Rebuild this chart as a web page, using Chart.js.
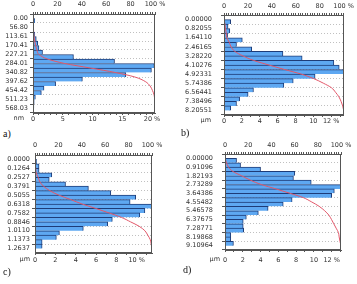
<!DOCTYPE html>
<html>
<head>
<meta charset="utf-8">
<script src="https://cdn.jsdelivr.net/npm/chart.js@4.4.0/dist/chart.umd.min.js"></script>
<style>
  body { margin: 0; background: #fff; width: 357px; height: 284px; position: relative; overflow: hidden; }
  canvas { position: absolute; }
  .tag { position: absolute; font-family: "Liberation Serif", serif; font-size: 10px; line-height: 10px; color: #111; }
</style>
</head>
<body>
<canvas id="chartA" width="178" height="128" style="left:0;top:0"></canvas>
<canvas id="chartB" width="179" height="128" style="left:178px;top:0"></canvas>
<canvas id="chartC" width="178" height="128" style="left:0;top:140px"></canvas>
<canvas id="chartD" width="179" height="128" style="left:178px;top:140px"></canvas>
<div class="tag" style="left:3px;top:129px">a)</div>
<div class="tag" style="left:181px;top:128px">b)</div>
<div class="tag" style="left:3px;top:267px">c)</div>
<div class="tag" style="left:183px;top:265px">d)</div>
<script>
// a) size classes in nm, frequency in %, cumulative in %
const aYLabels = ['0.00', '56.80', '113.61', '170.41', '227.21', '284.01', '340.82', '397.62', '454.42', '511.23', '568.03'];
const aHist = [0.3, 0.1, 0.1, 0.3, 0.55, 0.8, 1.0, 1.6, 6.8, 13.7, 20.4, 19.9, 15.6, 8.3, 3.8, 1.85, 1.4, 0.4, 0.2, 0.15];
const aCum = [0, 0.3, 0.4, 0.5, 0.8, 1.4, 2.2, 3.2, 4.9, 11.9, 26, 47, 67.5, 83.5, 92, 96, 97.9, 99.3, 99.7, 99.9, 100];

// b) µm
const bYLabels = ['0.00000', '0.82055', '1.64110', '2.46165', '3.28220', '4.10276', '4.92331', '5.74386', '6.56441', '7.38496', '8.20551'];
const bHist = [0.75, 0.45, 0.65, 0.4, 2.05, 1.4, 3.1, 6.6, 8.75, 12.3, 12.9, 13.4, 10.2, 7.75, 6.7, 3.3, 2.7, 1.75, 1.4, 0.75];
const bCum = [0, 0.8, 1.2, 1.9, 2.3, 4.4, 5.9, 9.0, 15.8, 24.8, 37.5, 50.7, 64.5, 75, 83, 89.8, 93.2, 96, 97.8, 99.2, 100];

// c) µm
const cYLabels = ['0.0000', '0.1264', '0.2527', '0.3791', '0.5055', '0.6318', '0.7582', '0.8846', '1.0110', '1.1373', '1.2637'];
const cHist = [0.15, 0.4, 0.4, 1.65, 1.4, 3.0, 5.25, 7.45, 9.9, 9.35, 11.5, 10.8, 10.3, 7.6, 7.15, 4.75, 2.4, 2.1, 0.7, 0.7];
const cCum = [0, 0.2, 0.6, 1.0, 2.7, 4.1, 7.2, 12.6, 20.3, 30.5, 40.2, 52, 63.2, 73.8, 81.6, 89, 93.9, 96.4, 98.5, 99.3, 100];

// d) µm
const dYLabels = ['0.00000', '0.91096', '1.82193', '2.73289', '3.64386', '4.55482', '5.46578', '6.37675', '7.28771', '8.19868', '9.10964'];
const dHist = [1.3, 1.75, 4.0, 7.85, 7.7, 9.7, 13.05, 12.3, 12.0, 7.55, 6.55, 4.85, 3.75, 2.4, 2.05, 2.05, 2.1, 0.65, 0.65, 0.95];
const dCum = [0, 1.3, 3.0, 6.8, 14.4, 21.9, 31.3, 43.9, 55.9, 67.5, 74.8, 81.2, 85.9, 89.5, 91.8, 93.8, 95.8, 97.8, 98.4, 99.1, 100];

const tickFont = { family: 'DejaVu Sans', size: 6.5 };
const textColor = '#333';
const axisColor = '#555';

// unit text left of the bottom axis ("nm" / "µm")
const unitPlugin = {
  id: 'unitLabel',
  afterDraw(chart, args, opts) {
    const { ctx, chartArea } = chart;
    ctx.save();
    ctx.font = '6.5px "DejaVu Sans"';
    ctx.fillStyle = textColor;
    ctx.textAlign = 'right';
    ctx.textBaseline = 'top';
    ctx.fillText(opts.text, chartArea.left - opts.gap, chartArea.bottom + opts.dy);
    ctx.restore();
  }
};

// box round the plot area
const framePlugin = {
  id: 'frame',
  afterDatasetsDraw(chart) {
    const { ctx, chartArea: a } = chart;
    ctx.save();
    ctx.strokeStyle = axisColor;
    ctx.lineWidth = 1;
    ctx.strokeRect(Math.round(a.left) + 0.5, Math.round(a.top) + 0.5,
      Math.round(a.right - a.left) - 1, Math.round(a.bottom - a.top) - 1);
    ctx.restore();
  }
};

function makePanel(id, p) {
  const yMax = parseFloat(p.yLabels[p.yLabels.length - 1]);
  const n = p.hist.length;
  const bars = p.hist.map((v, i) => ({ x: v, y: yMax * (i + 0.5) / n }));
  const curve = p.cum.map((v, i) => ({ x: v, y: yMax * i / n }));

  return new Chart(document.getElementById(id), {
    type: 'bar',
    data: {
      datasets: [
        {
          type: 'line',
          data: curve,
          xAxisID: 'x2',
          borderColor: '#e2586a',
          borderWidth: 1,
          pointRadius: 0,
          cubicInterpolationMode: 'monotone',
          order: 1
        },
        {
          data: bars,
          xAxisID: 'x',
          backgroundColor: '#5ea8f2',
          borderColor: '#1e3c78',
          borderWidth: { top: 1, right: 1, bottom: 0, left: 0 },
          borderSkipped: false,
          barPercentage: 1,
          categoryPercentage: 1,
          order: 2
        }
      ]
    },
    options: {
      indexAxis: 'y',
      responsive: false,
      devicePixelRatio: 1,
      animation: false,
      events: [],
      layout: { padding: { left: 0, right: p.padRight, top: 0, bottom: 0 } },
      plugins: {
        legend: { display: false },
        tooltip: { enabled: false },
        unitLabel: { text: p.unit, gap: p.unitGap, dy: p.botGap }
      },
      scales: {
        y: {
          type: 'linear',
          reverse: true,
          min: 0,
          max: yMax,
          afterBuildTicks: s => { s.ticks = p.yLabels.map(l => ({ value: parseFloat(l) })); },
          afterFit: s => { s.width = p.axisW; },
          ticks: { callback: (v, i) => p.yLabels[i], font: tickFont, color: textColor, padding: p.yPad, autoSkip: false },
          grid: { color: '#c0c0c0', tickColor: axisColor, tickLength: 3 },
          border: { display: true, color: axisColor, dash: [1, 2] }
        },
        x: {
          type: 'linear',
          position: 'bottom',
          min: 0,
          max: p.xMax,
          afterBuildTicks: s => {
            const t = [];
            for (let v = 0; v <= p.xMax; v += 1) t.push({ value: v });
            s.ticks = t;
          },
          afterFit: s => { s.height = p.botH; },
          ticks: {
            callback: v => (v % p.xMajor === 0 ? (v === p.xLast ? v + ' %' : String(v)) : ''),
            font: tickFont, color: textColor, padding: p.botGap - 2, maxRotation: 0, autoSkip: false
          },
          grid: { drawOnChartArea: false, tickColor: axisColor, tickLength: 2 },
          border: { display: true, color: axisColor }
        },
        x2: {
          type: 'linear',
          position: 'top',
          min: 0,
          max: 100,
          afterBuildTicks: s => {
            const t = [];
            for (let v = 0; v <= 100; v += 2) t.push({ value: v });
            s.ticks = t;
          },
          afterFit: s => { s.height = p.topH; },
          ticks: {
            callback: v => (v % 20 === 0 ? (v === 100 ? '100 %' : String(v)) : ''),
            font: tickFont, color: textColor, padding: p.topGap - 2, maxRotation: 0, autoSkip: false
          },
          grid: { drawOnChartArea: false, tickColor: axisColor, tickLength: 2 },
          border: { display: true, color: axisColor }
        }
      }
    },
    plugins: [unitPlugin, framePlugin]
  });
}

makePanel('chartA', {
  yLabels: aYLabels, hist: aHist, cum: aCum, unit: 'nm',
  xMax: 20.5, xMajor: 5, xLast: 20,
  axisW: 33, padRight: 23, topH: 14, botH: 15, yPad: 2, topGap: 6, botGap: 2, unitGap: 9
});
makePanel('chartB', {
  yLabels: bYLabels, hist: bHist, cum: bCum, unit: 'µm',
  xMax: 13.4, xMajor: 2, xLast: 12,
  axisW: 46, padRight: 13, topH: 15, botH: 13, yPad: 9, topGap: 5, botGap: 2, unitGap: 13
});
makePanel('chartC', {
  yLabels: cYLabels, hist: cHist, cum: cCum, unit: 'µm',
  xMax: 11.5, xMajor: 2, xLast: 10,
  axisW: 35, padRight: 26, topH: 15, botH: 15, yPad: 2, topGap: 6, botGap: 3, unitGap: 5
});
makePanel('chartD', {
  yLabels: dYLabels, hist: dHist, cum: dCum, unit: 'µm',
  xMax: 13.05, xMajor: 2, xLast: 12,
  axisW: 47, padRight: 16, topH: 14, botH: 18, yPad: 9, topGap: 5, botGap: 6, unitGap: 5
});
</script>
</body>
</html>
